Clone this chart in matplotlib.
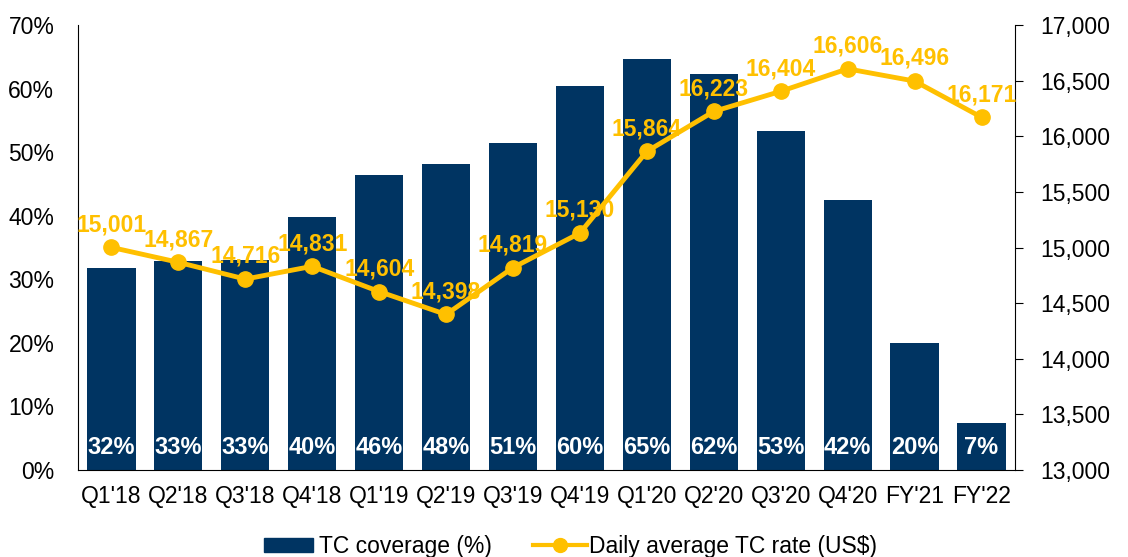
import matplotlib
matplotlib.use("Agg")
import matplotlib.pyplot as plt
from matplotlib.ticker import FuncFormatter, MultipleLocator
from matplotlib.lines import Line2D
from matplotlib.patches import Patch

categories = ["Q1'18", "Q2'18", "Q3'18", "Q4'18", "Q1'19", "Q2'19", "Q3'19",
              "Q4'19", "Q1'20", "Q2'20", "Q3'20", "Q4'20", "FY'21", "FY'22"]
coverage = [31.8, 32.9, 33.0, 39.8, 46.4, 48.1, 51.4, 60.4, 64.6, 62.3, 53.3, 42.5, 20.0, 7.4]
coverage_labels = ["32%", "33%", "33%", "40%", "46%", "48%", "51%", "60%", "65%",
                   "62%", "53%", "42%", "20%", "7%"]
tc_rate = [15001, 14867, 14716, 14831, 14604, 14398, 14819, 15130, 15864,
           16223, 16404, 16606, 16496, 16171]

BAR = "#003462"
YEL = "#FFC000"
plt.rcParams['font.family'] = ['Liberation Sans', 'DejaVu Sans']
FS = 16.5

fig = plt.figure(figsize=(11.28, 5.57), dpi=100)
ax = fig.add_axes([0.0691, 0.1562, 0.8307, 0.7989])
x = list(range(len(categories)))
ax.bar(x, coverage, width=0.72, color=BAR, zorder=2)
ax.set_xlim(-0.5, len(categories) - 0.5)
ax.set_ylim(0, 70)
ax.yaxis.set_major_locator(MultipleLocator(10))
ax.yaxis.set_major_formatter(FuncFormatter(lambda v, p: f"{int(v)}%"))
ax.set_xticks(x)
ax.set_xticklabels(categories)
ax.tick_params(axis='x', length=0, labelsize=FS, pad=11)
ax.tick_params(axis='y', length=0, labelsize=FS, pad=17)
ax.spines['top'].set_visible(False)
ax.spines['right'].set_visible(False)
for xi, lab in zip(x, coverage_labels):
    ax.text(xi, 3.6, lab, color='white', fontsize=17, fontweight='bold',
            ha='center', va='center', zorder=3)

ax2 = ax.twinx()
ax2.set_ylim(13000, 17000)
ax2.yaxis.set_major_locator(MultipleLocator(500))
ax2.yaxis.set_major_formatter(FuncFormatter(lambda v, p: f"{int(v):,}"))
ax2.plot(x, tc_rate, color=YEL, lw=3.5, marker='o', markersize=11, zorder=4)
for xi, v in zip(x, tc_rate):
    ax2.annotate(f"{v:,}", (xi, v), xytext=(0, 8), textcoords='offset points',
                 ha='center', va='bottom', color=YEL, fontsize=16.5, fontweight='bold')
ax2.spines['top'].set_visible(False)
ax2.spines['left'].set_visible(False)
ax2.spines['bottom'].set_visible(False)
ax2.tick_params(axis='y', direction='out', length=6, labelsize=FS, pad=12)

leg1 = fig.legend(handles=[Patch(color=BAR, label='TC coverage (%)')],
                  loc='center left', bbox_to_anchor=(264 / 1128, 0.018),
                  frameon=False, fontsize=FS, handlelength=2.15, handleheight=0.55,
                  handletextpad=0.25, borderpad=0, borderaxespad=0)
leg2 = fig.legend(handles=[Line2D([0], [0], color=YEL, lw=3, marker='o',
                                  markersize=10, label='Daily average TC rate (US$)')],
                  loc='center left', bbox_to_anchor=(533 / 1128, 0.018),
                  frameon=False, fontsize=FS, handlelength=2.35,
                  handletextpad=0.1, borderpad=0, borderaxespad=0)

fig.savefig("out.png", dpi=100)
